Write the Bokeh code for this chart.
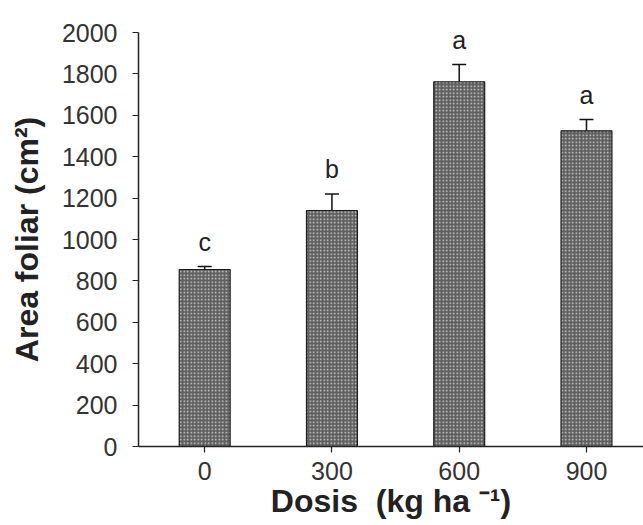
from bokeh.plotting import figure
from bokeh.models import ColumnDataSource, Whisker, FixedTicker, Range1d
from bokeh.core.properties import value
from bokeh.embed import file_html
from bokeh.resources import INLINE

doses = ["0", "300", "600", "900"]
area = [855, 1140, 1762, 1525]
err = [15, 80, 83, 55]
letters = ["c", "b", "a", "a"]
y_ticks = [0, 200, 400, 600, 800, 1000, 1200, 1400, 1600, 1800, 2000]

LETTER_GAP = 120  # data units above error bar top

xpos = list(range(len(doses)))
src = ColumnDataSource(dict(
    x=xpos, area=area,
    lower=[a - e for a, e in zip(area, err)],
    upper=[a + e for a, e in zip(area, err)],
    ly=[a + e + LETTER_GAP for a, e in zip(area, err)],
    letter=letters,
))

FONT = "Liberation Sans"

p = figure(width=643, height=525, output_backend="svg", toolbar_location=None,
           x_range=Range1d(-0.52, 3.448), y_range=Range1d(0, 2000),
           min_border_left=138, min_border_right=0, min_border_top=32, min_border_bottom=79)
p.outline_line_color = None
p.grid.visible = False
p.background_fill_color = "white"

p.vbar(x="x", top="area", width=0.4, source=src, fill_color="#5e5e5e",
       line_color="#1a1a1a", line_width=1.2,
       hatch_pattern="dot", hatch_color="#d4d4d4", hatch_scale=3.5, hatch_weight=1)

w = Whisker(base="x", lower="lower", upper="upper", source=src,
            line_color="#111111", line_width=1.5)
for h in (w.upper_head, w.lower_head):
    h.size = 14
    h.line_width = 1.5
    h.line_color = "#111111"
p.add_layout(w)

p.text(x="x", y="ly", text="letter", source=src, text_align="center",
       text_baseline="alphabetic", text_font=value(FONT),
       text_font_size="25px", text_color="#222222")

# axes
p.xaxis.ticker = FixedTicker(ticks=xpos)
p.xaxis.major_label_overrides = {i: d for i, d in enumerate(doses)}
p.yaxis.ticker = FixedTicker(ticks=y_ticks)
for ax in (p.xaxis[0], p.yaxis[0]):
    ax.axis_line_color = "#222222"
    ax.axis_line_width = 1.5
    ax.major_tick_line_color = "#222222"
    ax.major_tick_line_width = 1.2
    ax.major_tick_out = 6
    ax.major_tick_in = 0
    ax.minor_tick_line_color = None
    ax.major_label_text_font = FONT
    ax.major_label_text_font_size = "25px"
    ax.major_label_text_color = "#333333"
    ax.axis_label_text_font = FONT
    ax.axis_label_text_font_size = "32px"
    ax.axis_label_text_font_style = "bold"
    ax.axis_label_text_color = "#222222"

p.yaxis.major_label_standoff = 15
p.yaxis.axis_label = "Area foliar (cm²)"
p.yaxis.axis_label_standoff = 14
p.xaxis.major_label_standoff = 9
p.xaxis.axis_label = "Dosis\u00a0\u00a0(kg ha ⁻¹)"
p.xaxis.axis_label_standoff = 0

open("out.html", "w").write(file_html(p, INLINE))
